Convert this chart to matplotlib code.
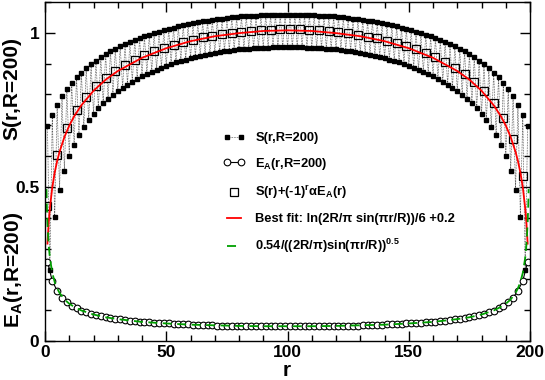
import numpy as np
import matplotlib
matplotlib.use("Agg")
import matplotlib.pyplot as plt
from matplotlib.legend_handler import HandlerLine2D
from matplotlib.ticker import MultipleLocator, FuncFormatter

# -----------------------------------------------------------
# font setup (Helvetica-like bold everywhere)
plt.rcParams['font.family'] = ['Liberation Sans', 'DejaVu Sans']
plt.rcParams['font.weight'] = 'bold'
plt.rcParams['mathtext.fontset'] = 'custom'
plt.rcParams['mathtext.rm'] = 'Liberation Sans:bold'
plt.rcParams['mathtext.it'] = 'Liberation Sans:bold'
plt.rcParams['mathtext.bf'] = 'Liberation Sans:bold'
plt.rcParams['mathtext.default'] = 'bf'

# -----------------------------------------------------------
# data
# S(r) at odd r (upper branch), r = 1, 3, ..., 199
s_odd = [0.698, 0.732, 0.765, 0.794, 0.817, 0.838, 0.856, 0.871, 0.885, 0.898,
         0.910, 0.921, 0.931, 0.940, 0.948, 0.956, 0.964, 0.970, 0.977, 0.983,
         0.989, 0.994, 1.000, 1.004, 1.009, 1.013, 1.017, 1.021, 1.025, 1.028,
         1.031, 1.034, 1.037, 1.039, 1.042, 1.044, 1.046, 1.048, 1.050, 1.051,
         1.053, 1.054, 1.055, 1.056, 1.057, 1.058, 1.058, 1.059, 1.059, 1.059,
         1.059, 1.059, 1.059, 1.058, 1.058, 1.057, 1.056, 1.055, 1.054, 1.053,
         1.051, 1.050, 1.048, 1.046, 1.044, 1.042, 1.039, 1.037, 1.034, 1.031,
         1.028, 1.025, 1.021, 1.017, 1.013, 1.009, 1.004, 1.000, 0.994, 0.989,
         0.983, 0.977, 0.970, 0.964, 0.956, 0.948, 0.940, 0.931, 0.921, 0.910,
         0.898, 0.885, 0.871, 0.856, 0.838, 0.817, 0.794, 0.765, 0.732, 0.698]
# S(r) at even r (lower branch), r = 2, 4, ..., 198
s_even = [0.230, 0.403, 0.491, 0.553, 0.600, 0.637, 0.668, 0.694, 0.717, 0.737,
          0.755, 0.771, 0.785, 0.799, 0.811, 0.822, 0.832, 0.842, 0.851, 0.859,
          0.867, 0.874, 0.881, 0.887, 0.893, 0.899, 0.904, 0.909, 0.913, 0.918,
          0.922, 0.925, 0.929, 0.932, 0.935, 0.937, 0.940, 0.942, 0.944, 0.946,
          0.947, 0.949, 0.950, 0.951, 0.952, 0.952, 0.953, 0.953, 0.953, 0.953,
          0.953, 0.953, 0.953, 0.952, 0.952, 0.951, 0.950, 0.949, 0.947, 0.946,
          0.944, 0.942, 0.940, 0.937, 0.935, 0.932, 0.929, 0.925, 0.922, 0.918,
          0.913, 0.909, 0.904, 0.899, 0.893, 0.887, 0.881, 0.874, 0.867, 0.859,
          0.851, 0.842, 0.832, 0.822, 0.811, 0.799, 0.785, 0.771, 0.755, 0.737,
          0.717, 0.694, 0.668, 0.637, 0.600, 0.553, 0.491, 0.403, 0.230]
# E_A(r) at odd r, r = 1, 3, ..., 199
ea_odd = [0.257, 0.195, 0.163, 0.141, 0.126, 0.114, 0.106, 0.099, 0.093, 0.088,
          0.084, 0.080, 0.077, 0.075, 0.072, 0.070, 0.068, 0.066, 0.065, 0.063,
          0.062, 0.061, 0.059, 0.058, 0.057, 0.057, 0.056, 0.055, 0.054, 0.054,
          0.053, 0.052, 0.052, 0.051, 0.051, 0.050, 0.050, 0.050, 0.049, 0.049,
          0.049, 0.049, 0.048, 0.048, 0.048, 0.048, 0.048, 0.048, 0.048, 0.048,
          0.048, 0.048, 0.048, 0.048, 0.048, 0.048, 0.048, 0.048, 0.049, 0.049,
          0.049, 0.049, 0.050, 0.050, 0.050, 0.051, 0.051, 0.052, 0.052, 0.053,
          0.054, 0.054, 0.055, 0.056, 0.057, 0.057, 0.058, 0.059, 0.061, 0.062,
          0.063, 0.065, 0.066, 0.068, 0.070, 0.072, 0.075, 0.077, 0.080, 0.084,
          0.088, 0.093, 0.099, 0.106, 0.114, 0.126, 0.141, 0.163, 0.195, 0.257]
# S(r)+(-1)^r alpha E_A(r), r = 1, 5, ..., 197
corr_r = list(range(1, 200, 4))
corr = [0.437, 0.604, 0.692, 0.750, 0.792, 0.826, 0.853, 0.876, 0.895, 0.912,
        0.927, 0.940, 0.951, 0.961, 0.970, 0.978, 0.985, 0.991, 0.996, 1.000,
        1.004, 1.006, 1.009, 1.010, 1.011, 1.011, 1.011, 1.010, 1.008, 1.005,
        1.002, 0.998, 0.993, 0.988, 0.982, 0.974, 0.966, 0.957, 0.946, 0.934,
        0.920, 0.904, 0.886, 0.865, 0.840, 0.810, 0.772, 0.724, 0.654, 0.537]
# best fit curve
fit_r = [1, 1.5, 2, 3, 4, 5, 6, 8, 10, 12, 15, 20, 25, 30, 40, 50, 60, 70, 80, 90,
         100, 110, 120, 130, 140, 150, 160, 170, 175, 180, 185, 188, 190, 192,
         194, 195, 196, 197, 198, 198.5, 199]
fit_y = [0.316, 0.383, 0.431, 0.499, 0.547, 0.584, 0.614, 0.662, 0.699, 0.729,
         0.765, 0.812, 0.848, 0.876, 0.919, 0.950, 0.973, 0.989, 0.999, 1.006,
         1.008, 1.006, 0.999, 0.989, 0.973, 0.950, 0.919, 0.876, 0.848, 0.812,
         0.765, 0.729, 0.699, 0.662, 0.614, 0.584, 0.547, 0.499, 0.431, 0.383,
         0.316]
# 0.54/sqrt(...) curve
ea_fit_r = [0.6, 0.75, 1, 1.5, 2, 3, 4, 5, 6, 8, 10, 12, 15, 20, 25, 30, 40, 50,
            60, 70, 80, 90, 100, 110, 120, 130, 140, 150, 160, 170, 175, 180,
            185, 188, 190, 192, 194, 195, 196, 197, 198, 198.5, 199, 199.25, 199.4]
ea_fit_y = [0.493, 0.441, 0.382, 0.312, 0.270, 0.221, 0.191, 0.171, 0.156, 0.135,
            0.121, 0.111, 0.099, 0.086, 0.077, 0.071, 0.062, 0.057, 0.053, 0.051,
            0.049, 0.048, 0.048, 0.048, 0.049, 0.051, 0.053, 0.057, 0.062, 0.071,
            0.077, 0.086, 0.099, 0.111, 0.121, 0.135, 0.156, 0.171, 0.191, 0.221,
            0.270, 0.312, 0.382, 0.441, 0.493]

r_odd = np.arange(1, 200, 2)
r_all = np.arange(1, 200)
s_all = np.empty(199)
s_all[0::2] = s_odd
s_all[1::2] = s_even

# -----------------------------------------------------------
fig = plt.figure(figsize=(5.45, 3.8), dpi=100)
ax = fig.add_axes([0.0826, 0.1026, 0.89, 0.8921])

l1, = ax.plot(r_all, s_all, color='0.15', lw=0.5, linestyle=(0, (1, 1.3)),
              marker='s', ms=2.8, mec='black', mfc='black',
              label='S(r,R=200)')
l2, = ax.plot(r_odd, ea_odd, color='black', lw=0.8, marker='o', ms=4.8,
              mfc='white', mec='black', mew=0.8, label='E$_{A}$(r,R=200)')
l3, = ax.plot(corr_r, corr, linestyle='none', marker='s', ms=5.2,
              mfc='none', mec='black', mew=0.9,
              label=r'S(r)+(-1)$^{r}\alpha$E$_{A}$(r)')
l4, = ax.plot(fit_r, fit_y, color='#ff0000', lw=1.3,
              label='Best fit: ln(2R/\u03c0 sin(\u03c0r/R))/6 +0.2')
l5, = ax.plot(ea_fit_r, ea_fit_y, color='#00a000', lw=1.3,
              linestyle=(0, (5, 3)),
              label='0.54/((2R/\u03c0)sin(\u03c0r/R))$^{0.5}$')

ax.set_xlim(0, 200)
ax.set_ylim(0, 1.1)
ax.xaxis.set_major_locator(MultipleLocator(50))
ax.xaxis.set_minor_locator(MultipleLocator(10))
ax.yaxis.set_major_locator(MultipleLocator(0.5))
ax.yaxis.set_minor_locator(MultipleLocator(0.1))
ax.yaxis.set_major_formatter(FuncFormatter(lambda v, p: '%g' % v))
ax.tick_params(which='both', direction='in', top=True, right=True,
               labelsize=12.5, width=1.0)
ax.tick_params(which='major', length=7.5, pad=4)
ax.tick_params(axis='x', which='major', pad=3)
ax.tick_params(which='minor', length=4)
for sp in ax.spines.values():
    sp.set_linewidth(1.0)

# axis labels
fig.text(287 / 545, 1 - 379.5 / 380, 'r', fontsize=15, fontweight='bold',
         ha='center', va='bottom')
ax.text(-0.068, 0.745, 'S(r,R=200)', transform=ax.transAxes, rotation=90,
        fontsize=15, fontweight='bold', ha='center', va='center')
ax.text(-0.066, 0.21, 'E$_{A}$(r,R=200)', transform=ax.transAxes,
        rotation=90, fontsize=15, fontweight='bold', ha='center', va='center')

ax.legend(handles=[l1, l2, l3, l4, l5], loc='upper left',
          bbox_to_anchor=(223 / 545, 1 - 132 / 380),
          bbox_transform=fig.transFigure, frameon=False, fontsize=9.3,
          numpoints=2, handlelength=1.7, handletextpad=0.8,
          labelspacing=0.92, borderpad=0, borderaxespad=0,
          handler_map={l3: HandlerLine2D(numpoints=1)})

plt.savefig('out.png', dpi=100)
